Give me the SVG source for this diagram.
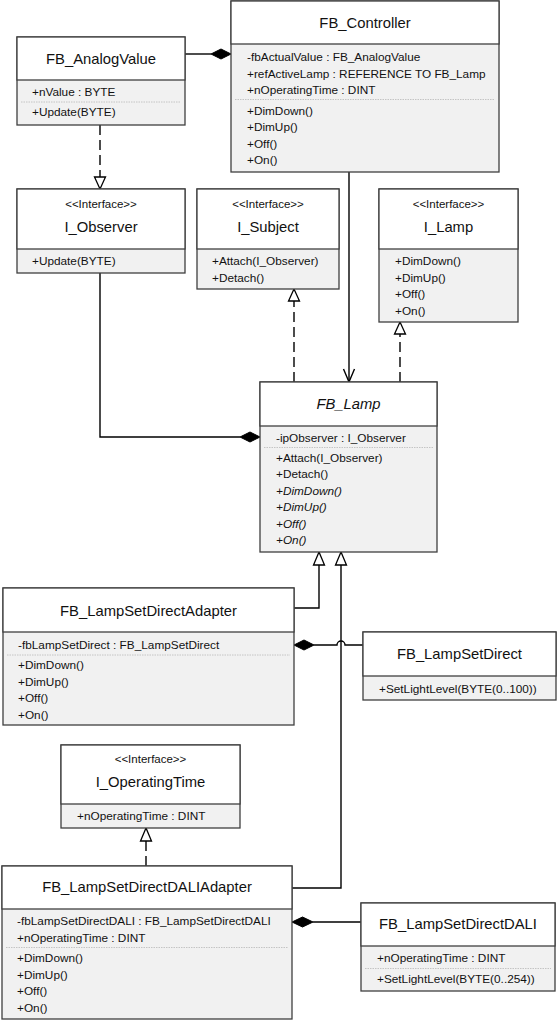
<svg xmlns="http://www.w3.org/2000/svg" width="558" height="1023" viewBox="0 0 558 1023">
<defs>
<style>
.box{fill:#f1f1f1;stroke:#3f3f3f;stroke-width:1.3}
.hdr{fill:#ffffff;stroke:#3f3f3f;stroke-width:1.3}
.sep{stroke:#c4c4c4;stroke-width:1;stroke-dasharray:1.5,1}
text{font-family:"Liberation Sans",Arial,sans-serif;fill:#111}
.t{font-size:14.8px;text-anchor:middle}
.s{font-size:11.5px;text-anchor:middle}
.m{font-size:11.8px}
.i{font-style:italic}
.ln{fill:none;stroke:#000;stroke-width:1.4}
.dl{fill:none;stroke:#000;stroke-width:1.4;stroke-dasharray:10,5}
.tri{fill:#fff;stroke:#000;stroke-width:1.3}
.dia{fill:#000;stroke:#000;stroke-width:1}
</style>
</defs>
<rect width="558" height="1023" fill="#fff"/>

<g id="connectors">
  <line class="ln" x1="185" y1="54" x2="211" y2="54"/>
  <polygon class="dia" points="211,54 221,49 231,54 221,59"/>
  <line class="dl" x1="100" y1="125" x2="100" y2="177"/>
  <polygon class="tri" points="100,189 94.5,177 105.5,177"/>
  <path class="ln" d="M100,273 V437 H240"/>
  <polygon class="dia" points="240,437 250,432 260,437 250,442"/>
  <line class="ln" x1="349" y1="172" x2="349" y2="381"/>
  <polyline class="ln" points="343.5,369 349,382 354.5,369"/>
  <line class="dl" x1="294" y1="382" x2="294" y2="301"/>
  <polygon class="tri" points="294,289 288.5,301 299.5,301"/>
  <line class="dl" x1="400" y1="382" x2="400" y2="334"/>
  <polygon class="tri" points="400,322 394.5,334 405.5,334"/>
  <path class="ln" d="M294,608 H319 V565"/>
  <polygon class="tri" points="319,552 313.5,565 324.5,565"/>
  <path class="ln" d="M292,888 H341 V565"/>
  <polygon class="tri" points="341,552 335.5,565 346.5,565"/>
  <path class="ln" d="M363,645 H345 A4,4 0 0 0 337,645 H314"/>
  <polygon class="dia" points="294,645 304,640 314,645 304,650"/>
  <line class="ln" x1="361" y1="922" x2="313" y2="922"/>
  <polygon class="dia" points="292,922 302.5,917 313,922 302.5,927"/>
  <line class="dl" x1="146" y1="866" x2="146" y2="841"/>
  <polygon class="tri" points="146,828 140.5,841 151.5,841"/>
</g>

<g id="FB_AnalogValue">
  <rect class="box" x="17" y="37" width="168" height="88"/>
  <rect class="hdr" x="17" y="37" width="168" height="43"/>
  <text class="t" x="101" y="64">FB_AnalogValue</text>
  <text class="m" x="32" y="96">+nValue : BYTE</text>
  <line class="sep" x1="21" y1="102" x2="181" y2="102"/>
  <text class="m" x="32" y="116">+Update(BYTE)</text>
</g>

<g id="FB_Controller">
  <rect class="box" x="231" y="1" width="268" height="171"/>
  <rect class="hdr" x="231" y="1" width="268" height="43"/>
  <text class="t" x="365" y="27.5">FB_Controller</text>
  <text class="m" x="247" y="61">-fbActualValue : FB_AnalogValue</text>
  <text class="m" x="247" y="77.5">+refActiveLamp : REFERENCE TO FB_Lamp</text>
  <text class="m" x="247" y="94">+nOperatingTime : DINT</text>
  <line class="sep" x1="235" y1="99.5" x2="495" y2="99.5"/>
  <text class="m" x="247" y="114.5">+DimDown()</text>
  <text class="m" x="247" y="131">+DimUp()</text>
  <text class="m" x="247" y="147.5">+Off()</text>
  <text class="m" x="247" y="164">+On()</text>
</g>

<g id="I_Observer">
  <rect class="box" x="17" y="189" width="168" height="84"/>
  <rect class="hdr" x="17" y="189" width="168" height="60"/>
  <text class="s" x="101" y="208">&lt;&lt;Interface&gt;&gt;</text>
  <text class="t" x="101" y="232">I_Observer</text>
  <text class="m" x="32" y="265">+Update(BYTE)</text>
</g>

<g id="I_Subject">
  <rect class="box" x="197" y="189" width="142" height="100"/>
  <rect class="hdr" x="197" y="189" width="142" height="60"/>
  <text class="s" x="268" y="208">&lt;&lt;Interface&gt;&gt;</text>
  <text class="t" x="268" y="232">I_Subject</text>
  <text class="m" x="212" y="265">+Attach(I_Observer)</text>
  <text class="m" x="212" y="281.5">+Detach()</text>
</g>

<g id="I_Lamp">
  <rect class="box" x="379" y="189" width="139" height="133"/>
  <rect class="hdr" x="379" y="189" width="139" height="60"/>
  <text class="s" x="448.5" y="208">&lt;&lt;Interface&gt;&gt;</text>
  <text class="t" x="448.5" y="232">I_Lamp</text>
  <text class="m" x="395" y="265">+DimDown()</text>
  <text class="m" x="395" y="281.5">+DimUp()</text>
  <text class="m" x="395" y="298">+Off()</text>
  <text class="m" x="395" y="314.5">+On()</text>
</g>

<g id="FB_Lamp">
  <rect class="box" x="260" y="382" width="177" height="170"/>
  <rect class="hdr" x="260" y="382" width="177" height="44"/>
  <text class="t i" x="348.5" y="409">FB_Lamp</text>
  <text class="m" x="276" y="441.5">-ipObserver : I_Observer</text>
  <line class="sep" x1="264" y1="447.5" x2="433" y2="447.5"/>
  <text class="m" x="276" y="461.5">+Attach(I_Observer)</text>
  <text class="m" x="276" y="478">+Detach()</text>
  <text class="m i" x="276" y="494.5">+DimDown()</text>
  <text class="m i" x="276" y="511">+DimUp()</text>
  <text class="m i" x="276" y="527.5">+Off()</text>
  <text class="m i" x="276" y="544">+On()</text>
</g>

<g id="FB_LampSetDirectAdapter">
  <rect class="box" x="3" y="588" width="291" height="137"/>
  <rect class="hdr" x="3" y="588" width="291" height="44"/>
  <text class="t" x="148.5" y="615.5">FB_LampSetDirectAdapter</text>
  <text class="m" x="18" y="649">-fbLampSetDirect : FB_LampSetDirect</text>
  <line class="sep" x1="7" y1="655" x2="290" y2="655"/>
  <text class="m" x="18" y="669">+DimDown()</text>
  <text class="m" x="18" y="685.5">+DimUp()</text>
  <text class="m" x="18" y="702">+Off()</text>
  <text class="m" x="18" y="718.5">+On()</text>
</g>

<g id="FB_LampSetDirect">
  <rect class="box" x="363" y="632" width="193" height="68"/>
  <rect class="hdr" x="363" y="632" width="193" height="44"/>
  <text class="t" x="459.5" y="659">FB_LampSetDirect</text>
  <text class="m" x="379" y="692.5">+SetLightLevel(BYTE(0..100))</text>
</g>

<g id="I_OperatingTime">
  <rect class="box" x="61" y="745" width="179" height="83"/>
  <rect class="hdr" x="61" y="745" width="179" height="59"/>
  <text class="s" x="150.5" y="763">&lt;&lt;Interface&gt;&gt;</text>
  <text class="t" x="150.5" y="787">I_OperatingTime</text>
  <text class="m" x="77" y="820">+nOperatingTime : DINT</text>
</g>

<g id="FB_LampSetDirectDALIAdapter">
  <rect class="box" x="2" y="866" width="290" height="153"/>
  <rect class="hdr" x="2" y="866" width="290" height="43"/>
  <text class="t" x="147" y="892">FB_LampSetDirectDALIAdapter</text>
  <text class="m" x="17" y="925">-fbLampSetDirectDALI : FB_LampSetDirectDALI</text>
  <text class="m" x="17" y="941.5">+nOperatingTime : DINT</text>
  <line class="sep" x1="6" y1="947.5" x2="288" y2="947.5"/>
  <text class="m" x="17" y="962">+DimDown()</text>
  <text class="m" x="17" y="978.5">+DimUp()</text>
  <text class="m" x="17" y="995">+Off()</text>
  <text class="m" x="17" y="1011.5">+On()</text>
</g>

<g id="FB_LampSetDirectDALI">
  <rect class="box" x="361" y="903" width="194" height="88"/>
  <rect class="hdr" x="361" y="903" width="194" height="43"/>
  <text class="t" x="458" y="929">FB_LampSetDirectDALI</text>
  <text class="m" x="377" y="962">+nOperatingTime : DINT</text>
  <line class="sep" x1="365" y1="968.5" x2="551" y2="968.5"/>
  <text class="m" x="377" y="983">+SetLightLevel(BYTE(0..254))</text>
</g>
</svg>
